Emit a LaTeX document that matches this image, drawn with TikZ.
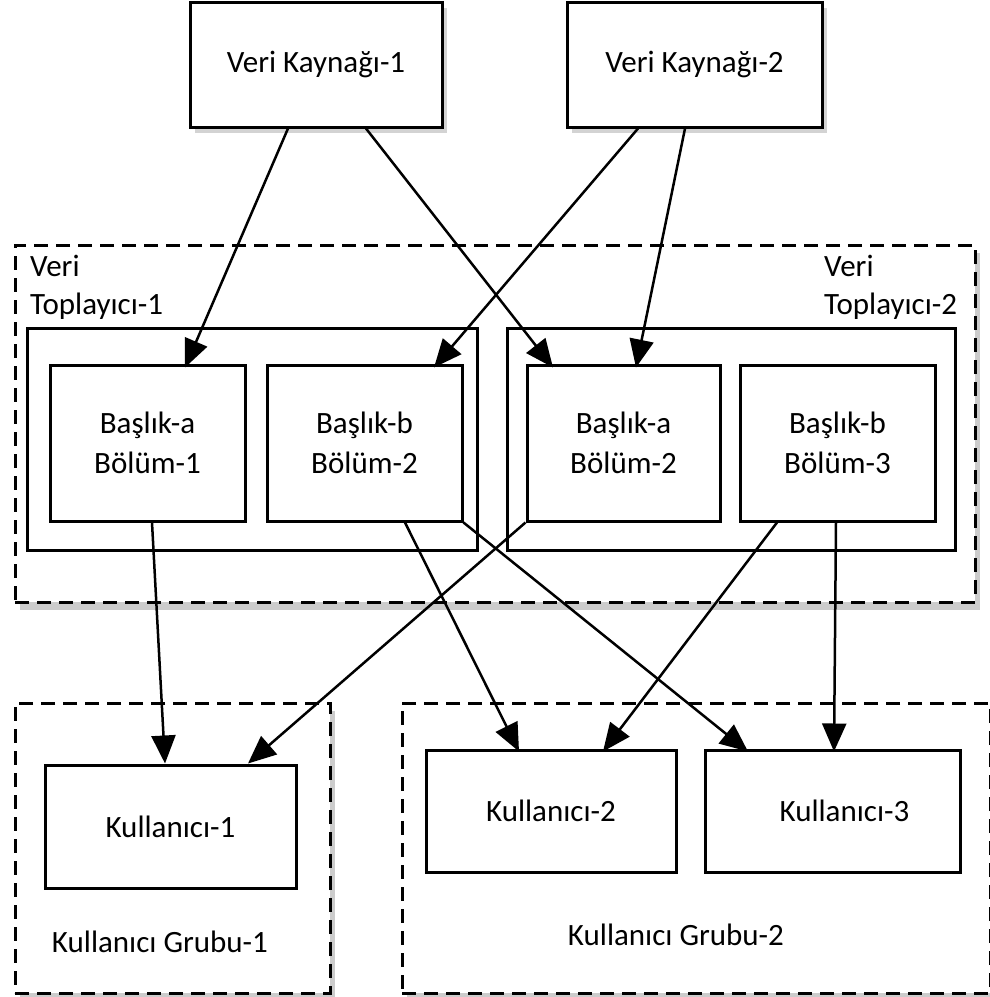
\documentclass[tikz,border=0pt]{standalone}
\usepackage{fontspec}
\setmainfont{Carlito}
\usetikzlibrary{arrows.meta,shadows}
\tikzset{
  box/.style={draw=black, line width=3pt, fill=white, inner sep=0pt, align=center, font=\fontsize{31}{40}\selectfont},
  shbox/.style={box, drop shadow={shadow xshift=5pt, shadow yshift=-6pt, opacity=0.35}},
  dbox/.style={draw=black, line width=3pt, dash pattern=on 14pt off 8pt, fill=white, inner sep=0pt,
    drop shadow={shadow xshift=5pt, shadow yshift=-8pt, opacity=0.4}},
  lbl/.style={inner sep=0pt, align=left, font=\fontsize{31}{38}\selectfont},
  arr/.style={line width=2.5pt, -{Triangle[length=28pt,width=24pt]}}
}
\begin{document}
\begin{tikzpicture}[x=1pt,y=-1pt]
\useasboundingbox (0,0) rectangle (990,997);
% sources
\node[shbox, minimum width=252pt, minimum height=125pt] (vk1) at (316,64.5) {Veri Kaynağı-1};
\node[shbox, minimum width=255pt, minimum height=125pt] (vk2) at (694.5,64.5) {Veri Kaynağı-2};
% collector container
\node[dbox, minimum width=960pt, minimum height=357pt] (vt) at (495,423.5) {};
\node[lbl, anchor=north west] (vt1) at (30,255) {Veri\\Toplayıcı-1};
\node[lbl, anchor=north west] (vt2) at (824,255) {Veri\\Toplayıcı-2};
\node[box, minimum width=450pt, minimum height=222pt] (t1) at (252,439) {};
\node[box, minimum width=448pt, minimum height=222pt] (t2) at (731,439) {};
\node[box, minimum width=195pt, minimum height=156pt] (ba1) at (147.5,443) {Başlık-a\\Bölüm-1};
\node[box, minimum width=195pt, minimum height=156pt] (bb2) at (364.5,443) {Başlık-b\\Bölüm-2};
\node[box, minimum width=193pt, minimum height=156pt] (ba2) at (623.5,443) {Başlık-a\\Bölüm-2};
\node[box, minimum width=195pt, minimum height=156pt] (bb3) at (837.5,443) {Başlık-b\\Bölüm-3};
% user groups
\node[dbox, minimum width=315pt, minimum height=290pt] (kg1) at (172.5,848) {};
\node[dbox, minimum width=588pt, minimum height=290pt] (kg2) at (696,848) {};
\node[box, minimum width=251pt, minimum height=123pt] (k1) at (170.5,826.5) {Kullanıcı-1};
\node[box, minimum width=250pt, minimum height=122pt] (k2) at (551,811) {Kullanıcı-2};
\node[box, minimum width=255pt, minimum height=122pt] (k3) at (832.5,811) {\hspace*{24pt}Kullanıcı-3};
\node[lbl] (kg1l) at (160,942) {Kullanıcı Grubu-1};
\node[lbl] (kg2l) at (676,935) {Kullanıcı Grubu-2};
% arrows
\draw[arr] ([xshift=-28pt]vk1.south) -- ([xshift=37.5pt,yshift=-4pt]ba1.north);
\draw[arr] ([xshift=50pt]vk1.south) -- ([xshift=-70.5pt,yshift=-4pt]ba2.north);
\draw[arr] ([xshift=-56.5pt]vk2.south) -- ([xshift=69.5pt,yshift=-4pt]bb2.north);
\draw[arr] ([xshift=-9.5pt]vk2.south) -- ([xshift=12.5pt,yshift=-4pt]ba2.north);
\draw[arr] ([xshift=4.5pt]ba1.south) -- ([xshift=-5.5pt]k1.north);
\draw[arr] ([xshift=40.5pt]bb2.south) -- ([xshift=-32pt,yshift=-3pt]k2.north);
\draw[arr] (bb2.south east) -- ([xshift=-84.5pt,yshift=-3pt]k3.north);
\draw[arr] (ba2.south west) -- ([xshift=77.5pt]k1.north);
\draw[arr] ([xshift=-60.5pt]bb3.south) -- ([xshift=52pt,yshift=-3pt]k2.north);
\draw[arr] ([xshift=-1.5pt]bb3.south) -- ([xshift=1.5pt,yshift=-3pt]k3.north);
\end{tikzpicture}
\end{document}
